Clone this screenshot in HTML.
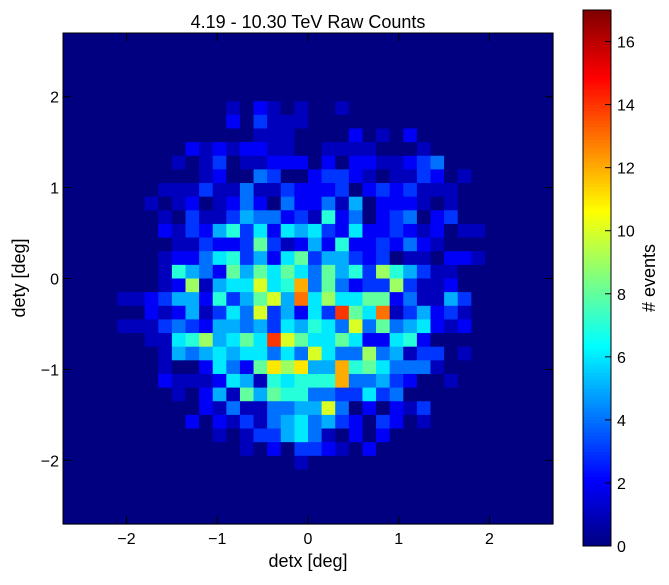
<!DOCTYPE html>
<html><head><meta charset="utf-8"><style>
body{margin:0;background:#fff;width:669px;height:580px;overflow:hidden}
svg text{font-family:"Liberation Sans",sans-serif;fill:#000}
</style></head><body>
<svg id="chart" width="669" height="580" xmlns="http://www.w3.org/2000/svg">
<text x="308" y="28" font-size="18" text-anchor="middle">4.19 - 10.30 TeV Raw Counts</text>
<text x="308" y="567" font-size="18" text-anchor="middle">detx [deg]</text>
<text transform="translate(25,278) rotate(-90)" font-size="18" text-anchor="middle">dety [deg]</text>
<text transform="translate(655,278) rotate(-90)" font-size="18" text-anchor="middle"># events</text>
<g id="cells"></g>
<g id="cbar"></g>
<g id="axes"></g>
</svg>
<script>
const binEdgesMin = -2.7, binEdgesMax = 2.7, nBins = 36;
const xTicks = [-2, -1, 0, 1, 2];
const yTicks = [-2, -1, 0, 1, 2];
const cbarTicks = [0, 2, 4, 6, 8, 10, 12, 14, 16];
const cbarMax = 17;
const Z0 = [0,0,0,0,0,0];
const counts = [
[...Z0,...Z0,...Z0,...Z0,...Z0,...Z0],
[...Z0,...Z0,...Z0,...Z0,...Z0,...Z0],
[...Z0,...Z0,...Z0,...Z0,...Z0,...Z0],
[...Z0,...Z0,...Z0,...Z0,...Z0,...Z0],
[...Z0,...Z0,...Z0,...Z0,...Z0,...Z0],
[...Z0,...Z0,1,0,2,1,0,1,0,0,1,0,0,0,...Z0,...Z0],
[...Z0,...Z0,2,0,3,1,1,1,...Z0,...Z0,...Z0],
[...Z0,...Z0,0,0,1,1,1,0,0,0,0,2,0,1,0,2,0,0,0,0,...Z0],
[...Z0,0,0,0,2,1,2,1,2,2,1,1,0,0,1,1,1,1,0,0,0,1,0,0,0,...Z0],
[...Z0,0,0,1,0,1,3,0,1,1,2,2,2,0,2,0,2,2,1,1,2,3,4,0,0,...Z0],
[...Z0,0,0,0,0,1,2,0,0,4,3,0,0,2,3,3,2,1,0,1,1,3,2,0,1,...Z0],
[...Z0,0,1,1,1,3,1,1,4,1,1,3,2,2,2,3,0,2,3,2,3,1,1,1,0,...Z0],
[...Z0,1,0,1,2,0,1,2,4,2,0,4,2,2,4,1,5,0,2,2,2,1,0,1,0,...Z0],
[...Z0,0,1,0,3,1,1,3,5,4,4,2,3,1,7,2,4,0,2,3,4,0,2,3,0,...Z0],
[...Z0,0,2,1,3,2,5,7,3,6,2,6,5,6,3,2,6,2,2,3,2,1,2,0,1,1,0,0,0,0,0],
[...Z0,0,0,1,1,3,2,2,3,8,3,1,2,5,2,7,2,2,3,2,4,2,1,0,0,...Z0],
[...Z0,0,1,2,2,4,6,7,3,5,2,6,8,3,5,5,3,2,3,0,1,1,0,2,2,1,0,0,0,0,0],
[...Z0,0,1,7,5,4,2,8,5,8,6,8,6,4,8,5,7,3,9,7,5,3,1,1,0,...Z0],
[...Z0,0,1,2,9,1,5,6,6,10,6,7,12,4,8,4,2,3,3,9,3,1,1,2,0,...Z0],
[0,0,0,0,1,1,2,3,5,5,2,7,3,5,8,10,5,13,6,9,6,6,8,8,2,4,1,1,5,3,...Z0],
[...Z0,2,1,2,5,1,3,6,4,10,3,5,2,6,3,14,8,6,13,1,3,5,2,3,1,...Z0],
[0,0,0,0,1,1,1,3,4,3,2,5,5,4,5,3,6,5,7,6,4,10,4,8,4,5,6,2,1,2,...Z0],
[...Z0,1,1,6,7,9,5,6,8,6,14,10,8,6,6,8,6,2,2,6,7,2,0,0,0,...Z0],
[...Z0,0,1,5,4,5,6,5,6,6,4,6,4,10,6,4,4,9,4,5,1,3,3,0,1,...Z0],
[...Z0,0,1,0,0,2,6,4,2,8,11,9,11,5,5,12,7,8,6,4,4,4,1,0,0,...Z0],
[...Z0,0,2,1,1,1,2,6,5,1,7,6,7,7,7,12,4,4,5,3,2,0,0,1,0,...Z0],
[...Z0,0,0,1,0,2,5,1,8,5,8,7,7,4,4,3,3,6,3,4,0,0,0,0,0,...Z0],
[...Z0,0,0,0,0,2,1,4,1,1,4,4,5,5,10,4,0,2,0,2,1,3,0,0,0,...Z0],
[...Z0,0,0,0,2,0,2,1,3,1,4,5,6,4,5,3,2,0,3,2,0,1,0,0,0,...Z0],
[...Z0,0,0,0,0,0,1,0,1,3,3,5,6,4,1,0,2,0,2,...Z0,...Z0],
[...Z0,...Z0,0,1,0,2,0,3,3,2,1,0,2,0,...Z0,...Z0],
[...Z0,...Z0,0,0,0,0,0,1,...Z0,...Z0,...Z0],
[...Z0,...Z0,...Z0,...Z0,...Z0,...Z0],
[...Z0,...Z0,...Z0,...Z0,...Z0,...Z0],
[...Z0,...Z0,...Z0,...Z0,...Z0,...Z0],
[...Z0,...Z0,...Z0,...Z0,...Z0,...Z0]
];

const NS = "http://www.w3.org/2000/svg";
const PL = 63, PT = 33, PW = 490, PH = 491;
const CBX = 583, CBT = 10, CBW = 28, CBH = 536;
function xs(v){ return PL + (v - binEdgesMin) / (binEdgesMax - binEdgesMin) * PW; }
function ys(v){ return PT + (binEdgesMax - v) / (binEdgesMax - binEdgesMin) * PH; }
function cs(v){ return CBT + CBH - v / cbarMax * CBH; }
function jet(t){
  t = Math.max(0, Math.min(1, t));
  const f = x => Math.max(0, Math.min(1, x));
  const r = f(Math.min(4*t - 1.5, -4*t + 4.5));
  const g = f(Math.min(4*t - 0.5, -4*t + 3.5));
  const b = f(Math.min(4*t + 0.5, -4*t + 2.5));
  return `rgb(${Math.round(r*255)},${Math.round(g*255)},${Math.round(b*255)})`;
}
function mk(tag, attrs, parent){
  const e = document.createElementNS(NS, tag);
  for (const k in attrs) e.setAttribute(k, attrs[k]);
  parent.appendChild(e);
  return e;
}
const binW = (binEdgesMax - binEdgesMin) / nBins;
const cells = document.getElementById('cells');
counts.forEach((row, r) => {
  row.forEach((v, c) => {
    const x0 = xs(binEdgesMin + c*binW), x1 = xs(binEdgesMin + (c+1)*binW);
    const yTop = ys(binEdgesMax - r*binW), yBot = ys(binEdgesMax - (r+1)*binW);
    const rect = mk('rect', {x: x0, y: yTop, width: x1 - x0 + 0.6, height: yBot - yTop + 0.6, fill: jet(v / cbarMax)}, cells);
    
    
  });
});
// colorbar
const cbar = document.getElementById('cbar');
const steps = 170;
for (let i = 0; i < steps; i++){
  const v0 = i / steps * cbarMax, v1 = (i+1) / steps * cbarMax;
  const s = mk('rect', {x: CBX, y: cs(v1), width: CBW, height: cs(v0) - cs(v1) + 0.5, fill: jet((v0+v1)/2/cbarMax)}, cbar);
  
  
}
const cbFrame = mk('rect', {x: CBX, y: CBT, width: CBW, height: CBH, fill: 'none', stroke: '#000', 'stroke-width': 1}, cbar);


cbarTicks.forEach(t => {
  const y = cs(t);
  const tk = mk('line', {x1: CBX + CBW - 6, x2: CBX + CBW, y1: y, y2: y, stroke: '#000'}, cbar);
  
  
  const tl = mk('text', {x: CBX + CBW + 6, y: y + 6, 'font-size': 16}, cbar);
  tl.textContent = t;
  
  
});
// axes
const axes = document.getElementById('axes');
const frame = mk('rect', {x: PL, y: PT, width: PW, height: PH, fill: 'none', stroke: '#000', 'stroke-width': 1}, axes);


xTicks.forEach(t => {
  const x = xs(t);
  const a = mk('line', {x1: x, x2: x, y1: PT + PH, y2: PT + PH - 8, stroke: '#000'}, axes);
  
  
  const b = mk('line', {x1: x, x2: x, y1: PT, y2: PT + 8, stroke: '#000'}, axes);
  
  
  const l = mk('text', {x: x, y: PT + PH + 20, 'font-size': 16, 'text-anchor': 'middle'}, axes);
  l.textContent = t < 0 ? '\u2212' + Math.abs(t) : t;
  
  
});
yTicks.forEach(t => {
  const y = ys(t);
  const a = mk('line', {x1: PL, x2: PL + 8, y1: y, y2: y, stroke: '#000'}, axes);
  
  
  const b = mk('line', {x1: PL + PW, x2: PL + PW - 8, y1: y, y2: y, stroke: '#000'}, axes);
  
  
  const l = mk('text', {x: PL - 4, y: y + 6, 'font-size': 16, 'text-anchor': 'end'}, axes);
  l.textContent = t < 0 ? '\u2212' + Math.abs(t) : t;
  
  
});
</script>
</body></html>
